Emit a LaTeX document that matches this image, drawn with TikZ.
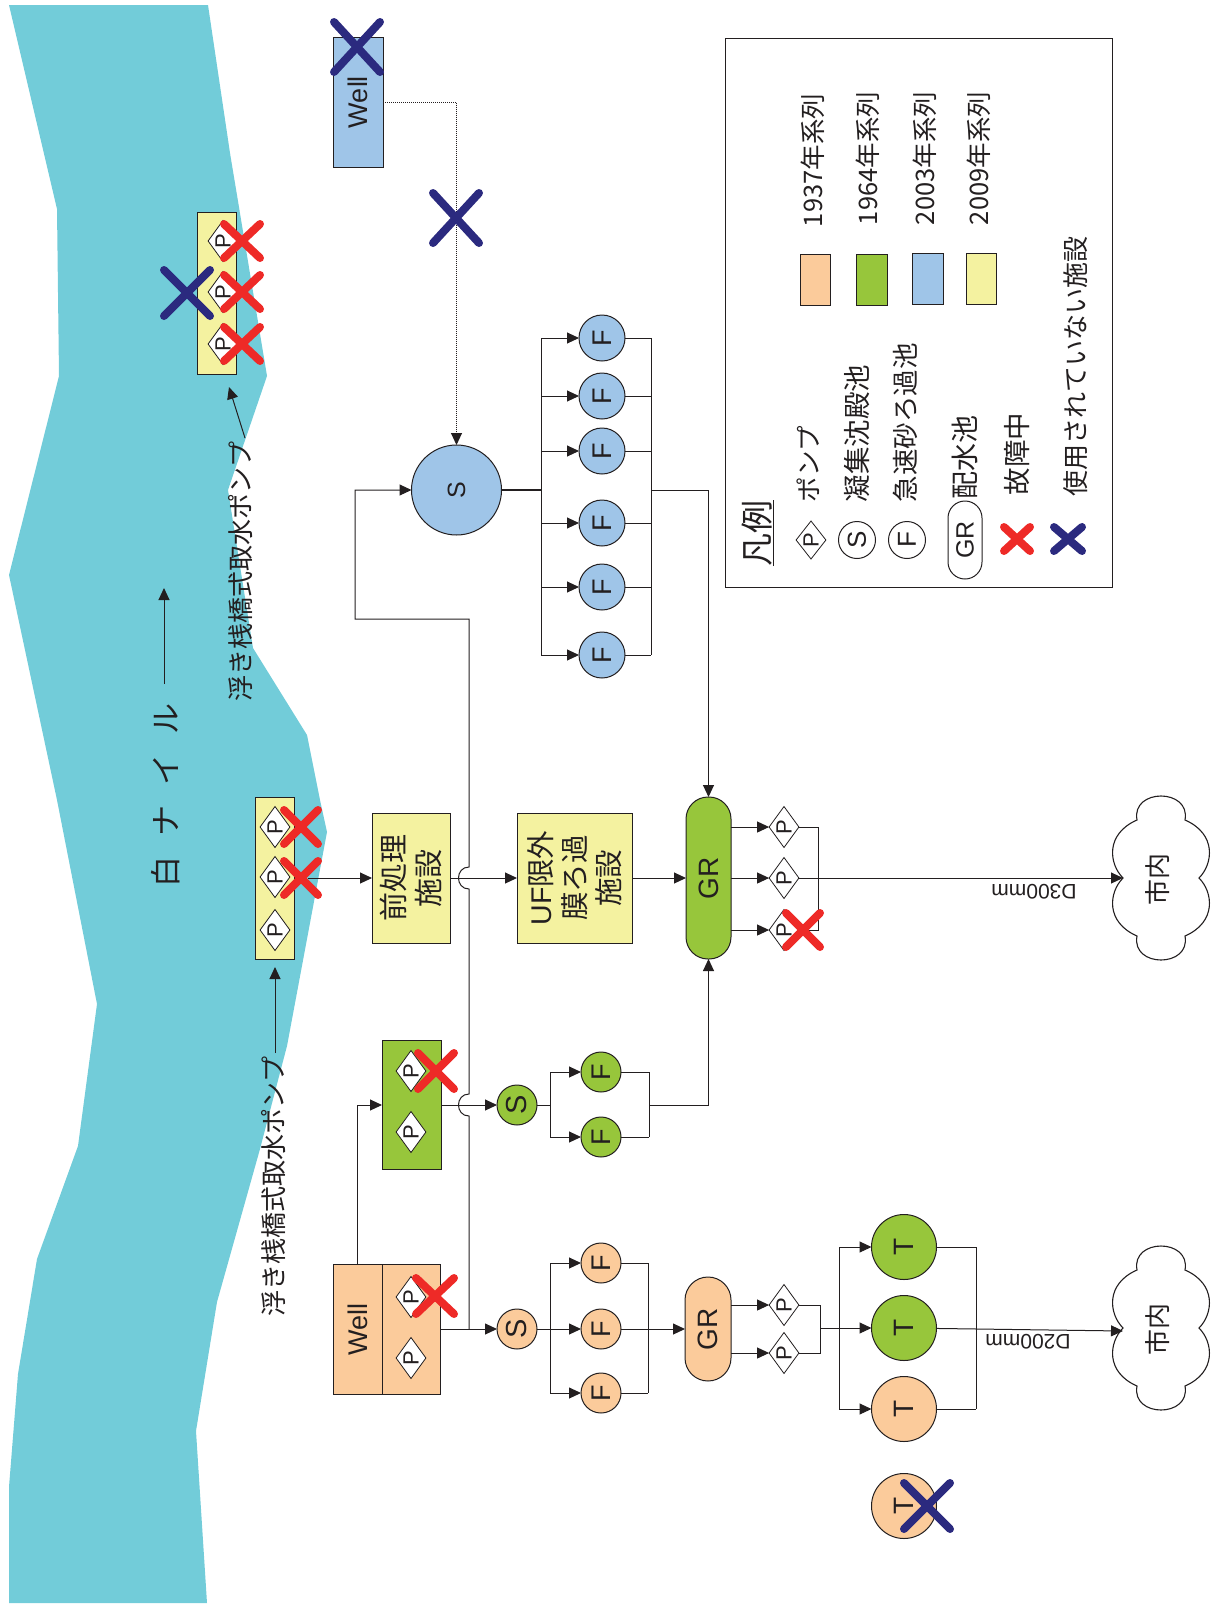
\documentclass[tikz,border=0pt]{standalone}
\usepackage{fontspec}
\setmainfont{Noto Sans CJK JP}
\newfontfamily\lat{Liberation Sans}
\usetikzlibrary{arrows.meta,shapes.geometric}
\definecolor{riverc}{HTML}{72CCD9}
\definecolor{orangec}{HTML}{FBCB9B}
\definecolor{greenc}{HTML}{97C63B}
\definecolor{bluec}{HTML}{9FC5E8}
\definecolor{yellowc}{HTML}{F4F2A0}
\definecolor{redc}{HTML}{EE2A27}
\definecolor{navyc}{HTML}{2B2A7F}
\definecolor{linec}{HTML}{231F20}
\newcommand{\fsz}[1]{\fontsize{#1}{#1}\selectfont}
\newcommand{\failX}[5]{\draw[crossline,draw=#1] ({#2-#4},{#3-#5}) -- ({#2+#4},{#3+#5}) ({#2-#4},{#3+#5}) -- ({#2+#4},{#3-#5});}
\newcommand{\cityShape}[2]{\draw[ln,fill=white,line width=1.1pt,shift={(#1,#2)}] (-38,0)
  .. controls (-52,-14) and (-56,-44) .. (-24,-58)
  .. controls (-30,-90) and (30,-90) .. (24,-58)
  .. controls (56,-44) and (52,-14) .. (38,0)
  .. controls (52,14) and (56,44) .. (24,58)
  .. controls (30,90) and (-30,90) .. (-24,58)
  .. controls (-56,44) and (-52,14) .. (-38,0) -- cycle;}
\tikzset{
  ln/.style={line width=1pt,draw=linec},
  arr/.style={ln,-{Triangle[length=12pt,width=11pt]}},
  crossline/.style={line width=8pt,line cap=round},
  rbox/.style={rectangle,draw=linec,line width=1pt,fill=#1,rotate=90,inner sep=0pt,outer sep=0pt,align=center},
  rtext/.style={rotate=90,inner sep=0pt,outer sep=0pt},
  pumpn/.style={diamond,draw=linec,fill=white,line width=.8pt,rotate=90,minimum width=41pt,minimum height=26pt,inner sep=0pt,outer sep=0pt,font=\lat\fsz{22}},
  disc/.style={circle,draw=linec,line width=1pt,fill=#1,rotate=90,inner sep=0pt,outer sep=0pt,text=linec},
  smallF/.style={disc=#1,minimum size=40pt,font=\lat\fsz{27}},
  bigF/.style={disc=#1,minimum size=46pt,font=\lat\fsz{27}},
  bigT/.style={disc=#1,minimum size=65pt,font=\lat\fsz{28}},
  lgtext/.style={rtext,anchor=west,font=\fsz{25.5}},
}
\begin{document}
\begin{tikzpicture}[x=1pt,y=-1pt,text=linec]
\useasboundingbox (0,0) rectangle (1214,1604);
% river
\fill[riverc] (9,5) -- (57,209) -- (59,376) -- (9,575) -- (57,800) -- (97,1004) -- (78,1146) -- (37,1259) -- (18,1374) -- (9,1487) -- (9,1603)
  -- (207,1603) -- (196,1431) -- (217,1302) -- (260,1149) -- (287,1046) -- (327,832) -- (320,800) -- (307,735) -- (253,648) -- (228,490) -- (267,376) -- (230,153) -- (208,5) -- cycle;
\node[rtext,anchor=west,font=\fsz{31}] (nile) at (166,887) {白\hspace{20pt}ナ\hspace{20pt}イ\hspace{20pt}ル};
\coordinate (flowTail) at (164,684);
\coordinate (flowTip) at (164,588);
\draw[arr] (flowTail) -- (flowTip);

% legend
\node[draw=linec,line width=1pt,minimum width=387pt,minimum height=549pt,inner sep=0pt,outer sep=0pt] (legend) at (918.5,312.5) {};
\node[rtext,font=\fsz{33}] (lgTitle) at (758,533) {\underline{凡例}};
\node[lgtext] (lgA) at (808,502) {ポンプ};
\node[lgtext,font=\fsz{27.5}] (lgB) at (857,502) {凝集沈殿池};
\node[lgtext,font=\fsz{26.5}] (lgC) at (905,502) {急速砂ろ過池};
\node[lgtext,font=\fsz{28}] (lgD) at (965,499) {配水池};
\node[lgtext,font=\fsz{27.5}] (lgE) at (1017,495) {故障中};
\node[lgtext,font=\fsz{26}] (lgF) at (1076,496) {使用されていない施設};
\node[lgtext] (lsA) at (813,227) {1937年系列};
\node[lgtext] (lsB) at (868,225) {1964年系列};
\node[lgtext] (lsC) at (925,225) {2003年系列};
\node[lgtext] (lsD) at (979,225) {2009年系列};
\node[rbox=orangec,minimum width=51pt,minimum height=30pt] (swA) at (815,279.5) {};
\node[rbox=greenc,minimum width=51pt,minimum height=31pt] (swB) at (871.5,279.5) {};
\node[rbox=bluec,minimum width=51pt,minimum height=31pt] (swC) at (927.5,279) {};
\node[rbox=yellowc,minimum width=51pt,minimum height=30pt] (swD) at (981,279) {};
\node[pumpn,minimum width=38pt,minimum height=24pt] (lgP) at (811,540) {P};
\node[disc=white,minimum size=37pt,font=\lat\fsz{26}] (lgS) at (857,540) {S};
\node[disc=white,minimum size=37pt,font=\lat\fsz{26}] (lgFc) at (907,540) {F};
\node[rbox=white,minimum width=78pt,minimum height=34pt,rounded corners=17pt,font=\lat\fsz{25}] (lgGR) at (965,540) {GR};

% upper well and sedimentation
\node[rbox=bluec,minimum width=130pt,minimum height=50pt,font=\lat\fsz{27}] (wellTop) at (358,102) {Well};
\coordinate (dotBend) at (456.5,102);
\node[disc=bluec,minimum size=90pt,font=\lat\fsz{25}] (sBlue) at (456.5,490) {S};
\foreach \n/\y in {1/338,2/396,3/451,4/523,5/587,6/655}
  \node[bigF=bluec] (fb\n) at (602,\y) {F};

% intake top
\node[rbox=yellowc,minimum width=162pt,minimum height=39pt] (intakeT) at (216.5,293) {};
\node[pumpn] (pt1) at (223,241) {P};
\node[pumpn] (pt2) at (223,292) {P};
\node[pumpn] (pt3) at (223,344) {P};
\node[rtext,anchor=west,font=\fsz{26}] (lblT) at (241,701) {浮き桟橋式取水ポンプ};
\coordinate (tailT) at (245,438);
\coordinate (tipT) at (229,387);

% intake middle
\node[rbox=yellowc,minimum width=162pt,minimum height=39pt] (intakeB) at (274.5,878) {};
\node[pumpn] (pb1) at (275,827) {P};
\node[pumpn] (pb2) at (275,877) {P};
\node[pumpn] (pb3) at (275,930) {P};
\node[rtext,anchor=west,font=\fsz{26}] (lblB) at (274,1316) {浮き桟橋式取水ポンプ};
\coordinate (tailB) at (275,1053);
\coordinate (tipB) at (275,967);
\coordinate (outB) at (308,878);
\node[rbox=yellowc,minimum width=130pt,minimum height=78pt,font=\fsz{29},execute at begin node={\baselineskip=35pt}] (pre) at (411,878) {前処理\\施設};
\node[rbox=yellowc,minimum width=130pt,minimum height=115pt,font=\fsz{28.5},execute at begin node={\baselineskip=34pt}] (uf) at (574.5,878) {{\lat UF}限外\\膜ろ過\\施設};
\node[rbox=greenc,minimum width=162pt,minimum height=45pt,rounded corners=22pt,font=\lat\fsz{28}] (grG) at (708.5,878) {GR};
\foreach \n/\y in {1/827,2/878,3/930}
  \node[pumpn] (pg\n) at (784,\y) {P};
\coordinate (busPG) at (818,878);
\coordinate (inA) at (1123,878);
\node[font=\lat\fsz{21},rotate=180,inner sep=0pt] (d300) at (1034,892) {D300mm};

% green train
\node[rbox=greenc,minimum width=129pt,minimum height=59pt] (greenB) at (411.5,1105) {};
\node[pumpn] (pw1) at (411,1071) {P};
\node[pumpn] (pw2) at (411,1132) {P};
\node[smallF=greenc,font=\lat\fsz{29}] (sG) at (517,1105) {S};
\node[smallF=greenc] (fg1) at (601,1072) {F};
\node[smallF=greenc] (fg2) at (601,1137) {F};
\coordinate (busGL) at (550,1105);
\coordinate (busGR) at (649,1105);
\coordinate (bendG) at (708.5,1105);

% lower well and orange train
\node[rbox=orangec,minimum width=130pt,minimum height=49pt,font=\lat\fsz{27}] (wellL) at (357.5,1329) {Well};
\node[rbox=orangec,minimum width=130pt,minimum height=58pt] (wellR) at (411,1329) {};
\node[pumpn] (po1) at (411,1297) {P};
\node[pumpn] (po2) at (411,1358) {P};
\coordinate (bendW) at (357.5,1105);
\node[smallF=orangec,font=\lat\fsz{29}] (sO) at (517,1329) {S};
\node[smallF=orangec] (fo1) at (601,1263) {F};
\node[smallF=orangec] (fo2) at (601,1329) {F};
\node[smallF=orangec] (fo3) at (601,1393) {F};
\coordinate (busOL) at (550,1329);
\coordinate (busOR) at (648,1329);
\node[rbox=orangec,minimum width=104pt,minimum height=46pt,rounded corners=23pt,font=\lat\fsz{28}] (grO) at (708,1329) {GR};
\node[pumpn] (pq1) at (784,1305) {P};
\node[pumpn] (pq2) at (784,1353) {P};
\coordinate (busPQ) at (820,1328);
\coordinate (busTL) at (839,1328);
\coordinate (busTR) at (976,1328);
\node[bigT=greenc] (t1) at (904,1247) {T};
\node[bigT=greenc] (t2) at (904,1328) {T};
\node[bigT=orangec] (t3) at (904,1409) {T};
\node[bigT=orangec] (t4) at (904,1506) {T};
\coordinate (inB) at (1123,1331);
\node[font=\lat\fsz{21},rotate=180,inner sep=0pt] (d200) at (1028,1342) {D200mm};

% cities
\cityShape{1161}{878}
\cityShape{1161}{1328}
\node[rtext,font=\fsz{26}] (cityA) at (1158,879) {市内};
\node[rtext,font=\fsz{26}] (cityB) at (1158,1329) {市内};

% connectors: river intakes
\draw[arr] (tailT) -- (tipT);
\draw[arr] (tailB) -- (tipB);
\draw[arr] (outB) -- (pre);
\draw[arr] (pre) -- (uf);
\draw[arr] (uf) -- (grG);
% well dotted
\draw[ln,densely dotted,-{Triangle[length=12pt,width=11pt]}] (wellTop) -- (dotBend) -- (sBlue);
% main trunk with hops
\coordinate (jMain) at (469,1329);
\coordinate (hopA) at (469,1116);
\coordinate (hopB) at (469,1094);
\coordinate (hopC) at (469,889);
\coordinate (hopD) at (469,867);
\coordinate (trunkTop) at (469,619);
\coordinate (trunkLeft) at (355,619);
\coordinate (trunkIn) at (355,490);
\draw[arr] (jMain) -- (hopA) .. controls +(-14,0) and +(-14,0) .. (hopB) -- (hopC) .. controls +(-14,0) and +(-14,0) .. (hopD) -- (trunkTop) -- (trunkLeft) -- (trunkIn) -- (sBlue);
% blue filters
\coordinate (busBL) at (541,490);
\coordinate (busBR) at (651,490);
\coordinate (bendB) at (708.5,490);
\draw[ln,line width=1.5pt] (sBlue) -- (busBL);
\draw[ln] (busBL |- fb1) -- (busBL |- fb6);
\draw[ln] (busBR |- fb1) -- (busBR |- fb6);
\foreach \n in {1,...,6} {
  \draw[arr] (busBL |- fb\n) -- (fb\n);
  \draw[ln] (fb\n) -- (busBR |- fb\n);
}
\draw[arr] (busBR) -- (bendB) -- (grG);
% GR green pumps
\foreach \n in {1,2,3} \draw[arr] (grG.south |- pg\n) -- (pg\n);
\draw[ln] (pg1) -- (busPG |- pg1) -- (busPG |- pg3) -- (pg3);
\draw[arr] (pg2) -- (inA);
% green train
\draw[arr] (wellL) -- (bendW) -- (greenB);
\draw[arr] (greenB) -- (sG);
\draw[ln] (sG) -- (busGL);
\draw[ln] (busGL |- fg1) -- (busGL |- fg2);
\draw[ln] (busGR |- fg1) -- (busGR |- fg2);
\foreach \n in {1,2} {
  \draw[arr] (busGL |- fg\n) -- (fg\n);
  \draw[ln] (fg\n) -- (busGR |- fg\n);
}
\draw[arr] (busGR) -- (bendG) -- (grG);
% orange train
\draw[arr] (wellR) -- (sO);
\draw[ln] (busOL |- fo1) -- (busOL |- fo3);
\draw[ln] (busOR |- fo1) -- (busOR |- fo3);
\draw[arr] (sO) -- (fo2);
\draw[arr] (busOL |- fo1) -- (fo1);
\draw[arr] (busOL |- fo3) -- (fo3);
\draw[ln] (fo1) -- (busOR |- fo1);
\draw[ln] (fo3) -- (busOR |- fo3);
\draw[arr] (fo2) -- (grO);
\draw[arr] (grO.south |- pq1) -- (pq1);
\draw[arr] (grO.south |- pq2) -- (pq2);
\draw[ln] (pq1) -- (busPQ |- pq1) -- (busPQ |- pq2) -- (pq2);
\draw[arr] (busPQ) -- (t2);
\draw[ln] (busTL |- t1) -- (busTL |- t3);
\draw[ln] (busTR |- t1) -- (busTR |- t3);
\draw[arr] (busTL |- t1) -- (t1);
\draw[arr] (busTL |- t3) -- (t3);
\draw[ln] (t1) -- (busTR |- t1);
\draw[ln] (t3) -- (busTR |- t3);
\draw[arr] (t2) -- (inB);

% crosses
\failX{navyc}{357}{47}{23}{25}
\failX{navyc}{456}{218}{23}{25}
\failX{navyc}{187}{293}{23}{23}
\failX{redc}{242}{241}{18}{17}
\failX{redc}{242}{292}{18}{17}
\failX{redc}{242}{344}{18}{17}
\failX{redc}{301}{827}{17}{17}
\failX{redc}{301}{878}{17}{17}
\failX{redc}{803}{930}{17}{17}
\failX{redc}{436}{1071}{18}{18}
\failX{redc}{435}{1296}{19}{18}
\failX{navyc}{927}{1506}{23}{23}
\failX{redc}{1017}{539}{13}{12}
\failX{navyc}{1068}{539}{14}{12}
\end{tikzpicture}
\end{document}
